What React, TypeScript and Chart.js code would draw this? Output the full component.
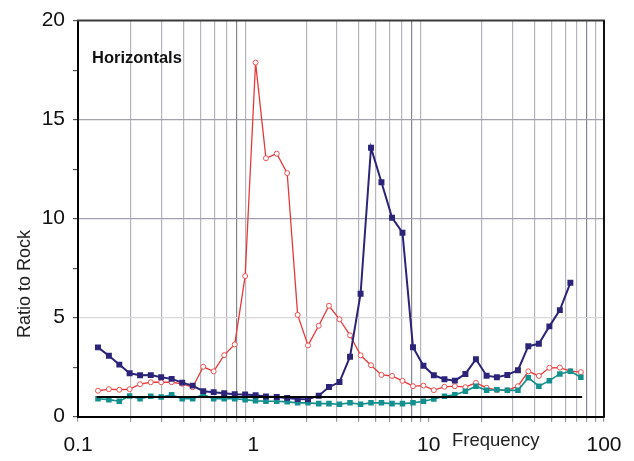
import { useEffect, useRef } from 'react';
import { Chart, registerables } from 'chart.js';

Chart.register(...registerables);

// Frequency (Hz) of each sample point
const frequency = [
  0.130, 0.150, 0.172, 0.197, 0.226, 0.260, 0.298, 0.342, 0.393, 0.451,
  0.518, 0.594, 0.682, 0.783, 0.898, 1.03, 1.18, 1.36, 1.56, 1.79,
  2.05, 2.36, 2.70, 3.10, 3.56, 4.09, 4.69, 5.38, 6.18, 7.09,
  8.14, 9.34, 10.7, 12.3, 14.1, 16.2, 18.6, 21.4, 24.5, 28.1,
  32.3, 37.0, 42.5, 48.8, 56.0, 64.3, 73.8,
];

// Spectral ratios to rock, horizontal components
const navyRatio = [
  3.50, 3.08, 2.63, 2.19, 2.09, 2.10, 1.99, 1.91, 1.72, 1.57,
  1.29, 1.24, 1.19, 1.13, 1.12, 1.08, 1.02, 0.99, 0.95, 0.89,
  0.88, 1.06, 1.50, 1.75, 3.03, 6.21, 13.58, 11.84, 10.05, 9.29,
  3.51, 2.57, 2.09, 1.89, 1.82, 2.16, 2.90, 2.07, 1.99, 2.11,
  2.35, 3.56, 3.68, 4.56, 5.38, 6.76,
];

const redRatio = [
  1.31, 1.39, 1.36, 1.39, 1.64, 1.74, 1.74, 1.74, 1.66, 1.49,
  2.52, 2.29, 3.11, 3.65, 7.10, 17.88, 13.05, 13.28, 12.30, 5.14,
  3.60, 4.59, 5.60, 4.92, 4.11, 3.10, 2.60, 2.11, 2.06, 1.81,
  1.54, 1.57, 1.34, 1.51, 1.54, 1.49, 1.71, 1.46, 1.35, 1.33,
  1.54, 2.29, 2.06, 2.47, 2.48, 2.30, 2.25,
];

const tealRatio = [
  0.91, 0.86, 0.78, 1.04, 0.91, 1.03, 0.99, 1.11, 0.91, 0.91,
  1.11, 0.91, 0.91, 0.91, 0.86, 0.80, 0.78, 0.78, 0.75, 0.70,
  0.70, 0.66, 0.66, 0.63, 0.70, 0.63, 0.70, 0.70, 0.66, 0.66,
  0.70, 0.78, 0.89, 1.03, 1.11, 1.29, 1.54, 1.33, 1.36, 1.33,
  1.33, 1.97, 1.54, 1.82, 2.16, 2.29, 1.99,
];

// Unit-ratio reference line
const unityFreq = [0.128, 75];
const unityRatio = [1, 1];

const xLabelValues = [0.1, 1, 10, 100];
const yLabelStep = 5;
const yMinorStep = 2.5;

const FONT = "Arial, 'Liberation Sans', sans-serif";

const toPoints = (xs: number[], ys: number[]) => ys.map((y, i) => ({ x: xs[i], y }));

const mantissa = (v: number) => {
  const e = Math.floor(Math.log10(v) + 1e-9);
  return Math.round((v / Math.pow(10, e)) * 1000) / 1000;
};

const isLabelled = (v: number) => xLabelValues.some((l) => Math.abs(l - v) / l < 1e-6);

const framePlugin = {
  id: 'frame',
  afterDraw(chart: any) {
    const { ctx, chartArea } = chart;
    const { left, right, top, bottom } = chartArea;
    ctx.save();
    // top and right edges of the plot box
    ctx.strokeStyle = '#3a3a3a';
    ctx.lineWidth = 2;
    ctx.beginPath();
    ctx.moveTo(left - 1, top);
    ctx.lineTo(right + 1, top);
    ctx.stroke();
    ctx.strokeStyle = '#111';
    ctx.beginPath();
    ctx.moveTo(right, top);
    ctx.lineTo(right, bottom + 1);
    ctx.stroke();

    ctx.fillStyle = '#111';
    ctx.font = `bold 16.5px ${FONT}`;
    ctx.textBaseline = 'alphabetic';
    ctx.textAlign = 'left';
    ctx.fillText('Horizontals', 92, 62.5);

    ctx.fillStyle = '#222';
    ctx.font = `18.5px ${FONT}`;
    ctx.fillText('Frequency', 452, 446);

    ctx.translate(30, 284);
    ctx.rotate(-Math.PI / 2);
    ctx.textAlign = 'center';
    ctx.font = `18px ${FONT}`;
    ctx.fillText('Ratio to Rock', 0, 0);
    ctx.restore();
  },
};

export default function App() {
  const canvasRef = useRef<HTMLCanvasElement | null>(null);

  useEffect(() => {
    document.body.style.margin = '0';
    const canvas = canvasRef.current;
    if (!canvas) return;

    const chart = new Chart(canvas, {
      type: 'scatter',
      data: {
        datasets: [
          {
            label: 'Unity',
            data: toPoints(unityFreq, unityRatio),
            showLine: true,
            borderColor: '#000',
            borderWidth: 2,
            pointRadius: 0,
          },
          {
            label: 'Site A',
            data: toPoints(frequency, navyRatio),
            showLine: true,
            borderColor: '#2b2478',
            backgroundColor: '#2b2478',
            borderWidth: 2,
            pointStyle: 'rect',
            pointRadius: 4.2,
            pointBorderWidth: 0,
          },
          {
            label: 'Site C',
            data: toPoints(frequency, tealRatio),
            showLine: true,
            borderColor: '#14908e',
            backgroundColor: '#14908e',
            borderWidth: 1.6,
            pointStyle: 'rect',
            pointRadius: 3.9,
            pointBorderWidth: 0,
          },
          {
            label: 'Site B',
            data: toPoints(frequency, redRatio),
            showLine: true,
            borderColor: '#e8393a',
            backgroundColor: '#ffffff',
            pointBorderColor: '#ee5050',
            pointBackgroundColor: '#ffffff',
            borderWidth: 1.3,
            pointStyle: 'circle',
            pointRadius: 2.5,
            pointBorderWidth: 1,
          },
        ],
      },
      options: {
        responsive: false,
        animation: false,
        events: [],
        layout: { padding: { top: 14, right: 30, left: 0, bottom: 0 } },
        plugins: {
          legend: { display: false },
          tooltip: { enabled: false },
        },
        scales: {
          x: {
            type: 'logarithmic',
            min: 0.1,
            max: 100,
            afterBuildTicks: (scale: any) => {
              const ticks: { value: number }[] = [];
              for (let e = -1; e <= 1; e++) {
                for (let m = 1; m <= 9; m++) {
                  ticks.push({ value: m * Math.pow(10, e) });
                }
              }
              ticks.push({ value: 100 });
              scale.ticks = ticks;
            },
            afterFit: (scale: any) => {
              scale.height = 44.3;
            },
            ticks: {
              autoSkip: false,
              maxRotation: 0,
              padding: 11,
              color: '#111',
              font: { family: FONT, size: 21 },
              callback: (value: any) => (isLabelled(Number(value)) ? String(Number(value)) : ''),
            },
            grid: {
              drawTicks: true,
              tickLength: 5,
              lineWidth: 1.2,
              color: (c: any) => {
                const v = c.tick ? c.tick.value : 1;
                const m = mantissa(v);
                if (m === 1) return 'rgba(0,0,0,0)';
                if (m === 8) return '#858590';
                return '#b6b6be';
              },
              tickColor: '#9a9a9a',
            },
            border: { display: true, color: '#000', width: 2 },
          },
          y: {
            type: 'linear',
            min: 0,
            max: 20,
            afterFit: (scale: any) => {
              scale.width = 78;
            },
            ticks: {
              stepSize: yMinorStep,
              padding: 8,
              color: '#111',
              font: { family: FONT, size: 21 },
              callback: (value: any) => (Number(value) % yLabelStep === 0 ? String(value) : ''),
            },
            grid: {
              drawTicks: true,
              tickLength: 5,
              lineWidth: 1.2,
              color: (c: any) => {
                const v = c.tick ? c.tick.value : 0;
                if (v === 10 || v === 15) return '#a2a2ac';
                if (v === 5) return '#d8d8d8';
                return 'rgba(0,0,0,0)';
              },
              tickColor: '#555',
            },
            border: { display: true, color: '#000', width: 2 },
          },
        },
      },
      plugins: [framePlugin],
    } as any);

    return () => chart.destroy();
  }, []);

  return (
    <div style={{ width: 634, height: 461, background: '#fff' }}>
      <canvas ref={canvasRef} width={634} height={461} />
    </div>
  );
}
